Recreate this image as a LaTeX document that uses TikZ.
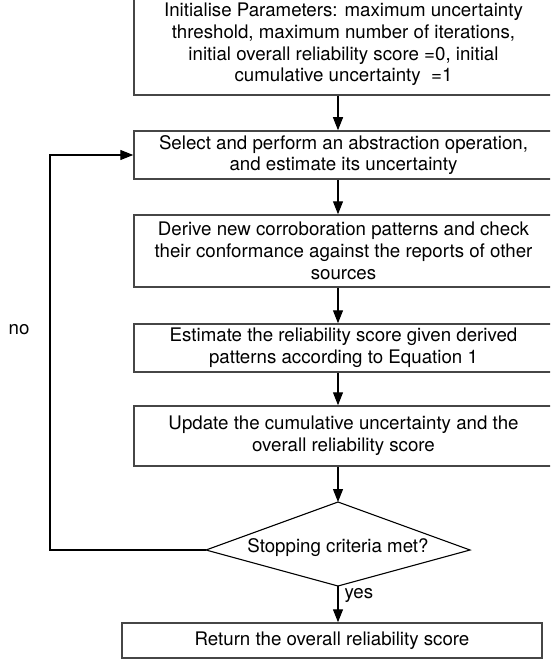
\documentclass[tikz,border=0pt]{standalone}
\usepackage{fontspec}
\setmainfont{TeX Gyre Heros}
\usepackage{tikz}
\usetikzlibrary{arrows.meta, positioning, calc}
\definecolor{boxline}{RGB}{70,70,70}

\begin{document}
\begin{tikzpicture}[x=1pt, y=-1pt,
  stepbox/.style={rectangle, draw=boxline, line width=1.5pt,
    minimum width=419pt, inner sep=0pt, align=center,
    font=\fontsize{18.7}{21.7}\selectfont},
  flow/.style={-{Triangle[length=13pt,width=10pt]},
    line width=1.1pt, black},
  lbl/.style={font=\fontsize{18.7}{21.7}\selectfont}
]
\useasboundingbox (0,0) rectangle (550,663);
\clip (0,0) rectangle (550,663);

% Initialisation (top, cut by the page)
\node[stepbox, minimum height=101pt] (Init) at (343.5,44.5)
  {Initialise Parameters: maximum uncertainty\\
  threshold, maximum number of iterations,\\
  initial overall reliability score =0, initial\\
  cumulative uncertainty~ =1};

% Abstraction step
\node[stepbox, minimum height=48pt] (Select) at (343.5,155)
  {Select and perform an abstraction operation,\\
  and estimate its uncertainty};

% Corroboration
\node[stepbox, minimum height=72pt] (Derive) at (343.5,251)
  {Derive new corroboration patterns and check\\
  their conformance against the reports of other\\
  sources};

% Reliability estimate
\node[stepbox, minimum height=48pt] (Estimate) at (343.5,348)
  {Estimate the reliability score given derived\\
  patterns according to Equation 1};

% Update
\node[stepbox, minimum height=60pt] (Update) at (343.5,436)
  {Update the cumulative uncertainty and the\\
  overall reliability score};

% Decision
\node[lbl] (Stop) at (338,548) {Stopping criteria met?};
\draw[black, line width=1.1pt]
  (338,502) coordinate (StopN) -- (470,550) coordinate (StopE)
  -- (338,586) coordinate (StopS) -- (206,550) coordinate (StopW)
  -- cycle;

% Result
\node[stepbox, minimum width=420pt, minimum height=35pt]
  (Return) at (332,640.5) {Return the overall reliability score};

% Arrows
\draw[flow] (Init.south -| Stop) -- (Select.north -| Stop);
\draw[flow] (Select.south -| Stop) -- (Derive.north -| Stop);
\draw[flow] (Derive.south -| Stop) -- (Estimate.north -| Stop);
\draw[flow] (Estimate.south -| Stop) -- (Update.north -| Stop);
\draw[flow] (Update.south -| Stop) -- (StopN);
\draw[flow] (StopS) -- node[lbl, right, pos=0.25, inner sep=6pt] {yes}
  (Return.north -| Stop);

% Loop back
\coordinate (LoopX) at (50,330);
\draw[flow] (StopW) -- (StopW -| LoopX) |- (Select.west);
\node[lbl] (No) at (19,330) {no};
\end{tikzpicture}
\end{document}
